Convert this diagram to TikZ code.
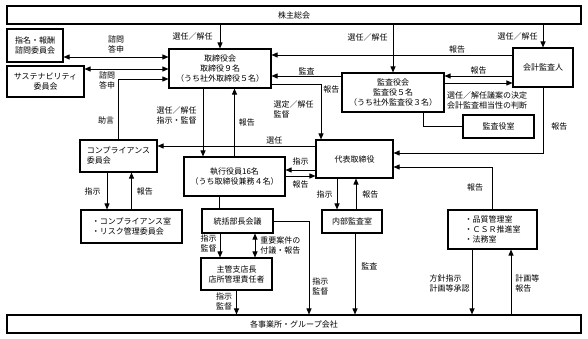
\documentclass[tikz,border=0pt]{standalone}
\usepackage{fontspec}
\newfontfamily\jpfont{Noto Sans CJK JP}
\usepackage{tikz}
\usetikzlibrary{positioning, arrows.meta}
\newcommand{\diagfont}{\jpfont\fontsize{8pt}{10pt}\selectfont}

\begin{document}
\begin{tikzpicture}[x=1pt, y=-1pt,
  box/.style={draw, line width=1.1pt, inner sep=0pt, align=center, font=\diagfont},
  lbox/.style={box, align=left},
  arrow/.style={-{Triangle[length=6pt, width=5pt]}, line width=0.9pt},
  dbl/.style={{Triangle[length=6pt, width=5pt]}-{Triangle[length=6pt, width=5pt]}, line width=0.9pt},
  link/.style={line width=0.9pt},
  lbl/.style={font=\diagfont, inner sep=1pt, align=left}]

  \useasboundingbox (0,0) rectangle (588,339);

  \node[box, minimum width=574pt, minimum height=18pt] (agm) at (294,15) {株主総会};
  \node[box, minimum width=56pt, minimum height=33pt] (nomination) at (35,45.5) {指名・報酬\\諮問委員会};
  \node[box, minimum width=77pt, minimum height=31pt] (sustain) at (45.5,81.5) {サステナビリティ\\委員会};
  \node[box, minimum width=102pt, minimum height=39pt] (board) at (220,68.5) {取締役会\\取締役９名\\（うち社外取締役５名）};
  \node[box, minimum width=102pt, minimum height=39pt] (auditboard) at (393,92.5) {監査役会\\監査役５名\\（うち社外監査役３名）};
  \node[box, minimum width=60pt, minimum height=39pt] (accountant) at (543,67.5) {会計監査人};
  \node[box, minimum width=71pt, minimum height=23pt] (auditoffice) at (498.5,126.5) {監査役室};
  \node[box, minimum width=77pt, minimum height=38pt] (president) at (354.5,159) {代表取締役};
  \node[box, minimum width=101pt, minimum height=39pt] (officers) at (234.5,176.5) {執行役員16名\\（うち取締役兼務４名）};
  \node[lbox, minimum width=77pt, minimum height=32pt] (compliance) at (118.5,156) {コンプライアンス\\委員会};
  \node[lbox, minimum width=101pt, minimum height=33pt] (risk) at (131.5,226.5) {・コンプライアンス室\\・リスク管理委員会};
  \node[box, minimum width=71pt, minimum height=24pt] (managers) at (237.5,221) {統括部長会議};
  \node[box, minimum width=71pt, minimum height=32pt] (branch) at (236.5,274) {主管支店長\\店所管理責任者};
  \node[box, minimum width=60pt, minimum height=23pt] (internal) at (352,221.5) {内部監査室};
  \node[lbox, minimum width=89pt, minimum height=39pt] (quality) at (492.5,229.5) {・品質管理室\\・ＣＳＲ推進室\\・法務室};
  \node[box, minimum width=574pt, minimum height=18pt] (sites) at (294,324) {各事業所・グループ会社};

  % shareholders
  \draw[arrow] (agm.south -| board.north) -- node[lbl, left=6pt]{選任／解任} (board.north);
  \draw[arrow] (agm.south -| auditboard.north) -- node[lbl, left=4pt, pos=0.28]{選任／解任} (auditboard.north);
  \draw[arrow] (agm.south -| accountant.north) -- node[lbl, left=4pt]{選任／解任} (accountant.north);

  % audit
  \draw[arrow] (accountant.west |- 0,55) -- node[lbl, above, pos=0.23]{報告} (board.east |- 0,55);
  \draw[arrow] (auditboard.west |- 0,76) -- node[lbl, above]{監査} (board.east |- 0,76);
  \draw[arrow] (accountant.west |- 0,76) -- node[lbl, above]{報告} (auditboard.east |- 0,76);
  \draw[arrow] (auditboard.east |- 0,83) -- node[lbl, below right=7pt and 1pt, pos=0]{選任／解任議案の決定\\会計監査相当性の判断} (accountant.west |- 0,83);
  \draw[link] ([xshift=30pt]auditboard.south) |- (auditoffice.west);
  \draw[arrow] (accountant.south) |- node[lbl, right=7pt, pos=0.3]{報告} (president.east |- 0,153);

  % board
  \draw[arrow] (board.east |- 0,84) -| node[lbl, right=1pt, pos=0.55]{報告} node[lbl, left=6pt, pos=0.73]{選定／解任\\監督} ([xshift=-33.5pt]president.north);
  \draw[arrow] ([xshift=-17pt]board.south) -- node[lbl, left=5pt, pos=0.39]{選任／解任\\指示・監督} ([xshift=-17pt]board.south |- officers.north);
  \draw[arrow] (officers.north) -- node[lbl, right=3pt]{報告} (officers.north |- board.south);
  \draw[dbl] (nomination.east |- 0,57) -- node[lbl, above=2pt, align=center]{諮問\\答申} (board.west |- 0,57);
  \draw[dbl] (sustain.east |- 0,69) -- node[lbl, below=1pt, pos=0.27, align=center]{諮問\\答申} (board.west |- 0,69);

  % compliance
  \draw[arrow] (president.west |- 0,146) -- node[lbl, above, pos=0.26]{選任} (compliance.east |- 0,146);
  \draw[arrow] (compliance.north) |- node[lbl, left=3pt, pos=0.16]{助言} (board.west |- 0,79);
  \draw[arrow] ([xshift=-11.5pt]compliance.south) -- node[lbl, left=5pt]{指示} ([xshift=-11.5pt]compliance.south |- risk.north);
  \draw[arrow] (risk.north) -- node[lbl, right=4pt]{報告} (risk.north |- compliance.south);

  % execution
  \draw[arrow] (president.west |- 0,170) -- node[lbl, above=3pt]{指示} (officers.east |- 0,170);
  \draw[arrow] (officers.east |- 0,176) -- node[lbl, below=3pt]{報告} (president.west |- 0,176);
  \draw[link] ([xshift=-18.5pt]managers.north) -- ([xshift=-18.5pt]managers.north |- officers.south);
  \draw[arrow] (managers.east) -| node[lbl, right=2pt, pos=0.85]{指示\\監督} ([xshift=15pt]sites.north);
  \draw[arrow] ([xshift=-17.5pt]managers.south) -- node[lbl, left=2pt, pos=0.4]{指示\\監督} ([xshift=-17.5pt]managers.south |- branch.north);
  \draw[dbl] ([xshift=17.5pt]managers.south) -- node[lbl, right=4pt]{重要案件の\\付議・報告} ([xshift=17.5pt]managers.south |- branch.north);
  \draw[arrow] (branch.south) -- node[lbl, left=3pt, pos=0.44]{指示\\監督} (branch.south |- sites.north);

  % internal audit
  \draw[arrow] ([xshift=-17.5pt]president.south) -- node[lbl, left=3pt]{指示} ([xshift=-17.5pt]president.south |- internal.north);
  \draw[arrow] ([xshift=4pt]internal.north) -- node[lbl, right=5pt]{報告} ([xshift=4pt]internal.north |- president.south);
  \draw[arrow] ([xshift=3pt]internal.south) -- node[lbl, right=5pt, pos=0.41]{監査} ([xshift=3pt]internal.south |- sites.north);

  % quality
  \draw[arrow] (quality.north) |- node[lbl, left=8pt, pos=0.26]{報告} (president.east |- 0,167);
  \draw[arrow] ([xshift=-20.5pt]quality.south) -- node[lbl, left=1pt, pos=0.53]{方針指示\\計画等承認} ([xshift=-20.5pt]quality.south |- sites.north);
  \draw[arrow] ([xshift=18.5pt]quality.south |- sites.north) -- node[lbl, right=3pt, pos=0.47]{計画等\\報告} ([xshift=18.5pt]quality.south);
\end{tikzpicture}
\end{document}
